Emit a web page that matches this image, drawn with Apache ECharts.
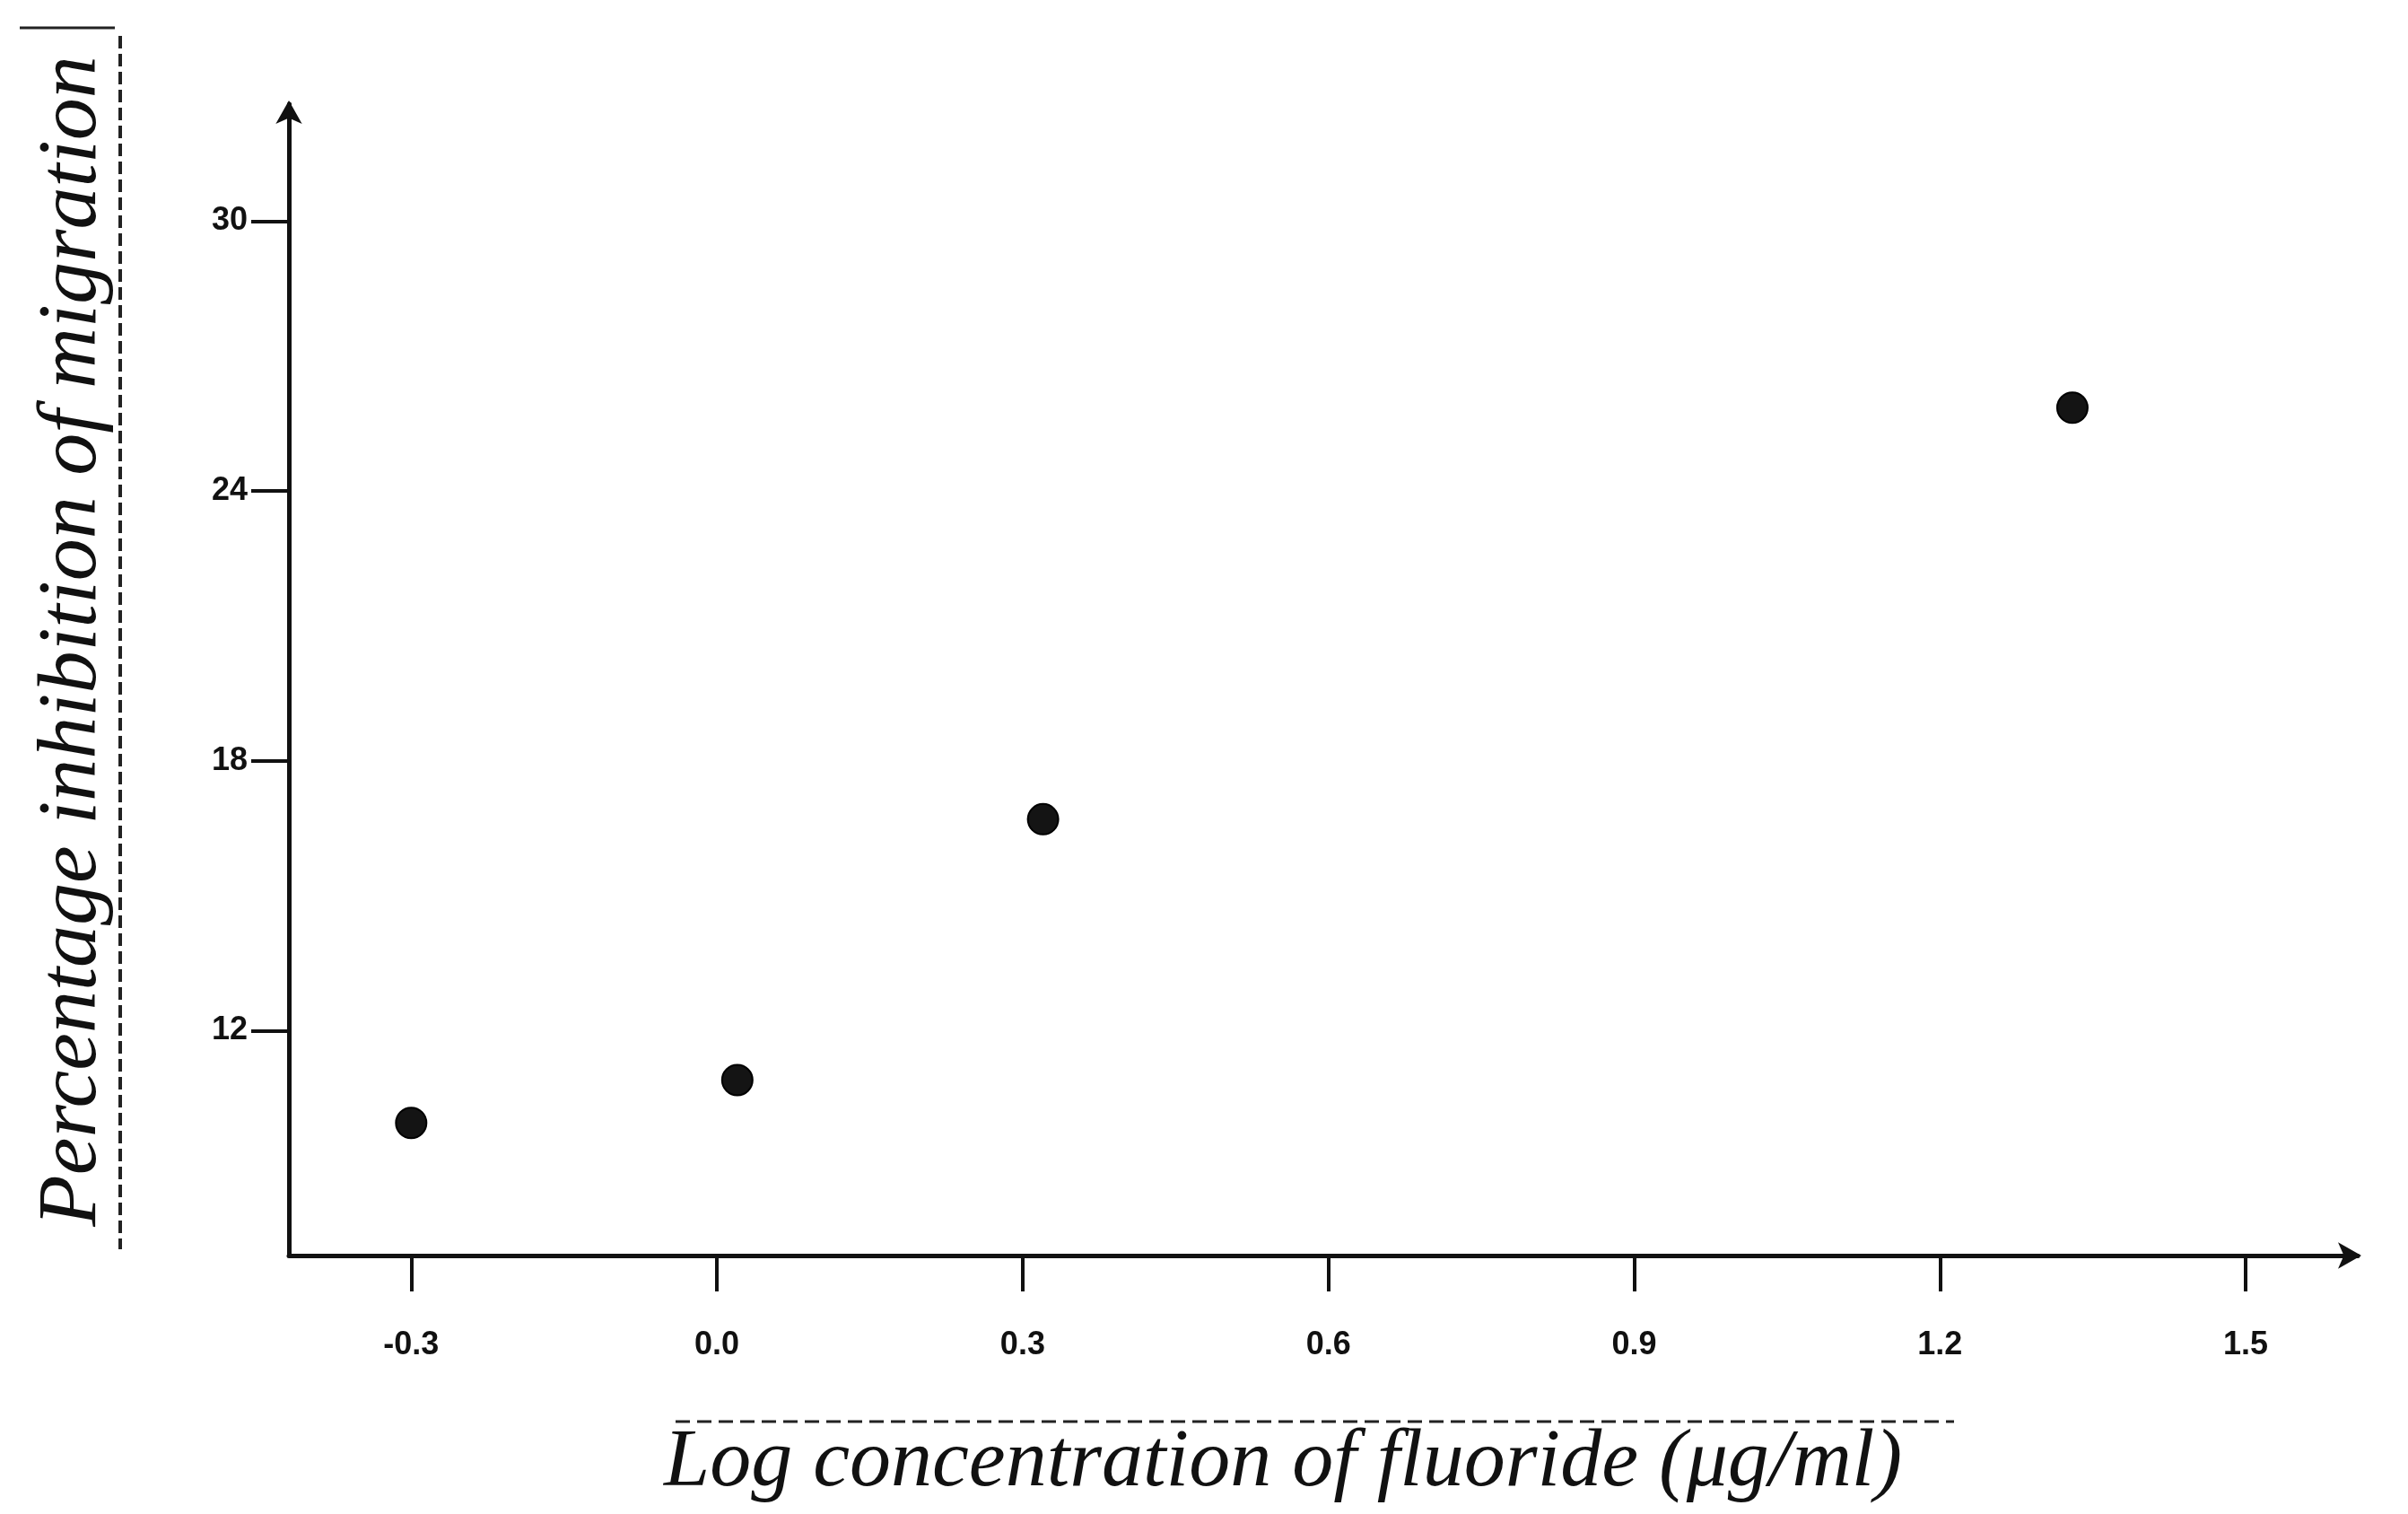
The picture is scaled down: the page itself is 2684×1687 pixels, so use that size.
<!DOCTYPE html>
<html>
<head>
<meta charset="utf-8">
<script src="https://cdn.jsdelivr.net/npm/echarts@6/dist/echarts.min.js"></script>
<style>
html,body{margin:0;padding:0;background:#fff;}
#chart{width:2684px;height:1687px;}
</style>
</head>
<body>
<div id="chart"></div>
<script>
// Data
const logConc = [-0.30, 0.02, 0.32, 1.33];
const inhibition = [9.95, 10.9, 16.7, 25.85];
const xTicks = [-0.3, 0.0, 0.3, 0.6, 0.9, 1.2, 1.5];
const yTicks = [12, 18, 24, 30];
const xTitle = 'Log concentration of fluoride (\u03bcg/ml)';
const yTitle = 'Percentage inhibition of migration';

const points = logConc.map((x, i) => [x, inhibition[i]]);

const chart = echarts.init(document.getElementById('chart'), null, {renderer: 'canvas'});
const labelFont = {fontFamily: 'Liberation Sans', fontWeight: 'bold', fontSize: 36, color: '#111'};

chart.setOption({
  backgroundColor: '#ffffff',
  animation: false,
  grid: {left: 322, right: 56, top: 116, bottom: 288, containLabel: false},
  xAxis: {
    type: 'value', min: -0.42, max: 1.61,
    name: xTitle, nameLocation: 'middle', nameGap: 186,
    nameTextStyle: {fontFamily: 'Liberation Serif', fontStyle: 'italic', fontSize: 92,
      color: '#111', padding: [0, 90, 0, 0]},
    splitLine: {show: false},
    axisLine: {show: true, onZero: false, lineStyle: {color: '#111', width: 5},
      symbol: ['none', 'arrow'], symbolSize: [22, 26], symbolOffset: [0, 4]},
    axisTick: {show: true, length: 40, lineStyle: {color: '#111', width: 4},
      customValues: xTicks},
    axisLabel: Object.assign({margin: 82, customValues: xTicks,
      formatter: v => v.toFixed(1)}, labelFont)
  },
  yAxis: {
    type: 'value', min: 7, max: 32.6,
    name: yTitle, nameLocation: 'middle', nameGap: 194, nameRotate: 90,
    nameTextStyle: {fontFamily: 'Liberation Serif', fontStyle: 'italic', fontSize: 94,
      color: '#111', padding: [0, 0, 0, 86]},
    splitLine: {show: false},
    axisLine: {show: true, onZero: false, lineStyle: {color: '#111', width: 5},
      symbol: ['none', 'arrow'], symbolSize: [22, 26], symbolOffset: [0, 4]},
    axisTick: {show: true, length: 42, lineStyle: {color: '#111', width: 4},
      customValues: yTicks},
    axisLabel: Object.assign({margin: 46, customValues: yTicks}, labelFont)
  },
  series: [{
    type: 'scatter',
    data: points,
    symbol: 'circle',
    symbolSize: 34,
    itemStyle: {color: '#141414', opacity: 1, borderColor: '#000', borderWidth: 2}
  }],
  graphic: [
    {type: 'line', shape: {x1: 134, y1: 40, x2: 134, y2: 1392},
      style: {stroke: '#222', lineWidth: 4, lineDash: [14, 6]}},
    {type: 'line', shape: {x1: 22, y1: 31, x2: 128, y2: 31},
      style: {stroke: '#222', lineWidth: 3}},
    {type: 'line', shape: {x1: 753, y1: 1584, x2: 2178, y2: 1584},
      style: {stroke: '#222', lineWidth: 3, lineDash: [16, 8]}}
  ]
});
</script>
</body>
</html>
